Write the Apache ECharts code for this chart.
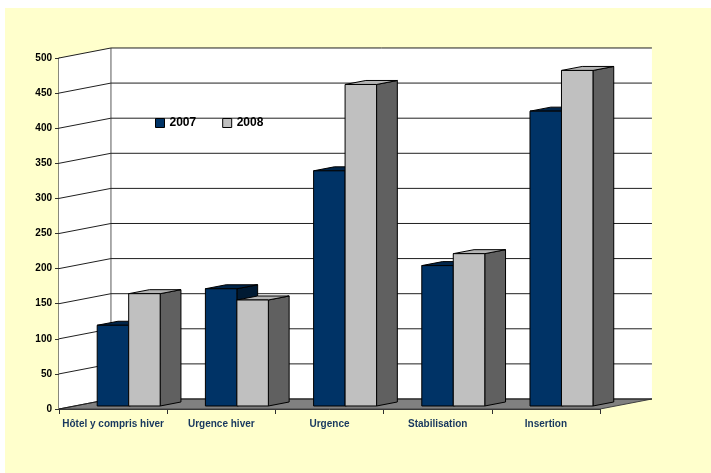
<!DOCTYPE html>
<html>
<head>
<meta charset="utf-8">
<script src="https://cdn.jsdelivr.net/npm/echarts@6/dist/echarts.min.js"></script>
<style>
html,body{margin:0;padding:0;background:#fff;}
#c{width:711px;height:473px;}
</style>
</head>
<body>
<div id="c"></div>
<script>
const categories = ['Hôtel y compris hiver', 'Urgence hiver', 'Urgence', 'Stabilisation', 'Insertion'];
const values2007 = [115, 167, 335, 200, 420];
const values2008 = [160, 151, 458, 217, 478];
const yTicks = [0, 50, 100, 150, 200, 250, 300, 350, 400, 450, 500];
const seriesNames = ['2007', '2008'];

const DEPTH_X = 0.48, DEPTH_Y = -0.0925;

function wallsRender(params, api) {
  const cs = params.coordSys;
  const bw = cs.width / categories.length;
  const DX = bw * DEPTH_X, DY = bw * DEPTH_Y;
  const x0 = cs.x, y0 = cs.y, x1 = cs.x + cs.width, y1 = cs.y + cs.height;
  return {
    type: 'group',
    children: [
      { type: 'polygon', shape: { points: [[x0, y0], [x0 + DX, y0 + DY], [x0 + DX, y1 + DY], [x0, y1]] }, style: { fill: '#ffffff' } },
      { type: 'polygon', shape: { points: [[x0 + DX, y0 + DY], [x1 + DX, y0 + DY], [x1 + DX, y1 + DY], [x0 + DX, y1 + DY]] }, style: { fill: '#ffffff' } },
      { type: 'polygon', shape: { points: [[x0, y1], [x1, y1], [x1 + DX, y1 + DY], [x0 + DX, y1 + DY]] }, style: { fill: '#808080', stroke: '#404040', lineWidth: 1 } },
      { type: 'line', shape: { x1: x0 + DX, y1: y0 + DY, x2: x0 + DX, y2: y1 + DY }, style: { stroke: '#909090', lineWidth: 1.5 } }
    ]
  };
}

function gridRender(params, api) {
  const cs = params.coordSys;
  const bw = cs.width / categories.length;
  const DX = bw * DEPTH_X, DY = bw * DEPTH_Y;
  const p = api.coord([0, api.value(1)]);
  const y = p[1];
  const x0 = cs.x, x1 = cs.x + cs.width;
  return {
    type: 'polyline',
    shape: { points: [[x0, y], [x0 + DX, y + DY], [x1 + DX, y + DY]] },
    style: { stroke: '#202020', lineWidth: 1, fill: null }
  };
}

function makeBarRender(idx, front, side, topc) {
  return function (params, api) {
    const cat = api.value(0), val = api.value(1);
    const base = api.coord([cat, 0]);
    const tp = api.coord([cat, val]);
    const bw = api.size([1, 0])[0];
    const DX = bw * DEPTH_X, DY = bw * DEPTH_Y;
    const w = bw * 0.291;
    const fx = DX * 0.3, fy = DY * 0.3, dx = DX * 0.4, dy = DY * 0.4;
    const left = base[0] - w + idx * w + fx, right = left + w;
    const yt = tp[1] + fy, yb = base[1] + fy;
    const st = { stroke: '#000', lineWidth: 1, lineJoin: 'round' };
    return {
      type: 'group',
      children: [
        { type: 'polygon', shape: { points: [[right, yt], [right + dx, yt + dy], [right + dx, yb + dy], [right, yb]] }, style: Object.assign({ fill: side }, st) },
        { type: 'polygon', shape: { points: [[left, yt], [left + dx, yt + dy], [right + dx, yt + dy], [right, yt]] }, style: Object.assign({ fill: topc }, st) },
        { type: 'rect', shape: { x: left, y: yt, width: w, height: yb - yt }, style: Object.assign({ fill: front }, st) }
      ]
    };
  };
}

const chart = echarts.init(document.getElementById('c'), null, { renderer: 'canvas' });
chart.setOption({
  animation: false,
  backgroundColor: '#ffffff',
  graphic: [
    { type: 'rect', left: 5, top: 8, shape: { width: 706, height: 465 }, style: { fill: '#FFFFCC' }, z: -10 }
  ],
  grid: { left: 59, right: 111, top: 58, bottom: 64 },
  legend: {
    left: 150, top: 112,
    itemWidth: 9, itemHeight: 9, itemGap: 26, icon: 'rect',
    textStyle: { fontFamily: 'Liberation Sans, Arial', fontWeight: 'bold', fontSize: 12, color: '#000' },
    data: [
      { name: seriesNames[0], itemStyle: { color: '#003366', borderColor: '#000', borderWidth: 1 } },
      { name: seriesNames[1], itemStyle: { color: '#C0C0C0', borderColor: '#000', borderWidth: 1 } }
    ]
  },
  xAxis: {
    type: 'category',
    data: categories,
    axisLine: { show: true, lineStyle: { color: '#303030', width: 1 } },
    axisTick: { show: true, length: 5, lineStyle: { color: '#303030' } },
    axisLabel: { fontFamily: 'Liberation Sans, Arial', fontWeight: 'bold', fontSize: 10, color: '#17375E', margin: 10, interval: 0 },
    splitLine: { show: false }
  },
  yAxis: {
    type: 'value', min: 0, max: 500, interval: 50,
    axisLine: { show: true, lineStyle: { color: '#606060', width: 1.5 } },
    axisTick: { show: true, length: 4, lineStyle: { color: '#303030' } },
    axisLabel: { fontFamily: 'Liberation Sans, Arial', fontWeight: 'bold', fontSize: 10, color: '#000', margin: 7 },
    splitLine: { show: false }
  },
  series: [
    { type: 'custom', name: 'walls', silent: true, z: 1, clip: false, renderItem: wallsRender, data: [[0, 0]] },
    { type: 'custom', name: 'grid', silent: true, z: 2, clip: false, renderItem: gridRender, data: yTicks.map(t => [0, t]) },
    { type: 'custom', name: seriesNames[0], z: 3, clip: false, itemStyle: { color: '#003366' },
      renderItem: makeBarRender(0, '#003366', '#001a33', '#00254a'),
      data: values2007.map((v, i) => [i, v]) },
    { type: 'custom', name: seriesNames[1], z: 3, clip: false, itemStyle: { color: '#C0C0C0' },
      renderItem: makeBarRender(1, '#C0C0C0', '#606060', '#B4B4B4'),
      data: values2008.map((v, i) => [i, v]) }
  ]
});
</script>
</body>
</html>
